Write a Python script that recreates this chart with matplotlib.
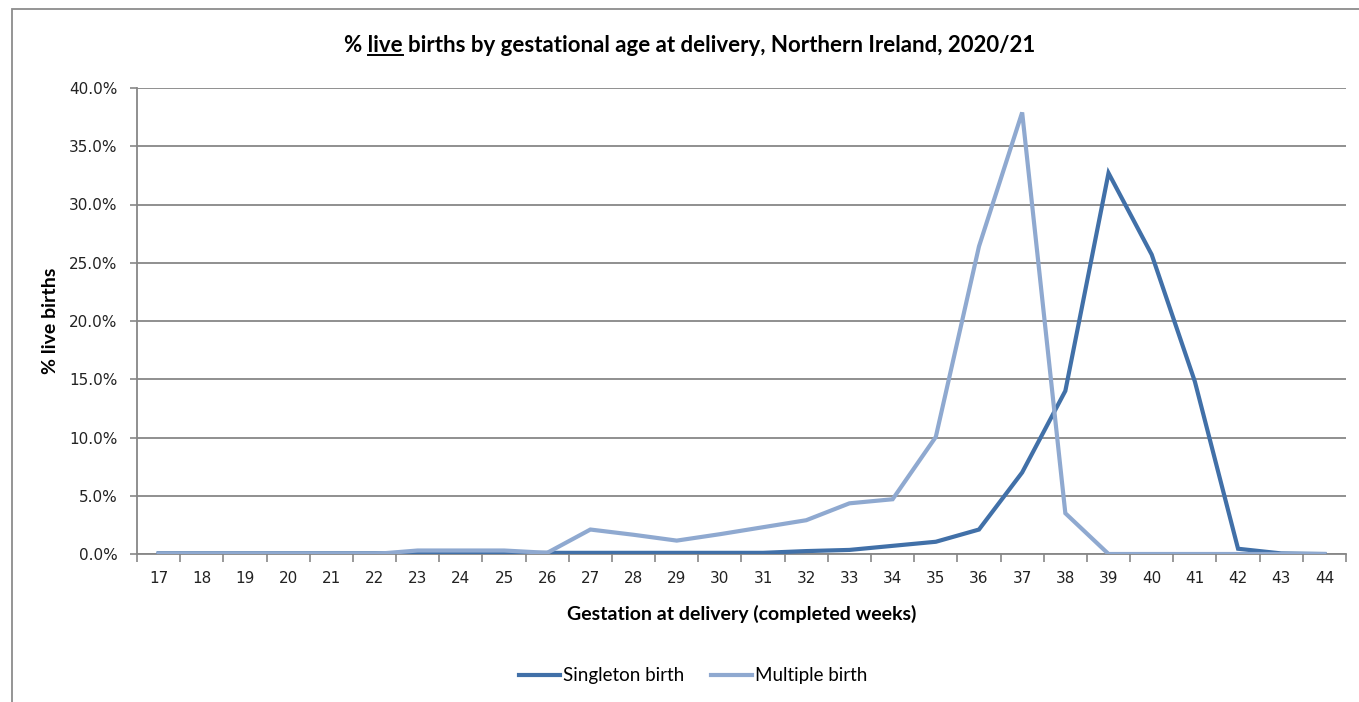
import matplotlib
matplotlib.use("Agg")
import matplotlib.pyplot as plt
from matplotlib.patches import Rectangle
from matplotlib.lines import Line2D
from matplotlib.ticker import FixedLocator, FuncFormatter

weeks = list(range(17, 45))
singleton = [0.05, 0.05, 0.05, 0.05, 0.05, 0.05, 0.05, 0.05, 0.05, 0.1,
             0.1, 0.1, 0.1, 0.1, 0.1, 0.25, 0.35, 0.7, 1.05, 2.1,
             7.0, 14.0, 32.7, 25.7, 14.8, 0.45, 0.05, 0.0]
multiple = [0.0, 0.0, 0.0, 0.0, 0.0, 0.0, 0.3, 0.3, 0.3, 0.1,
            2.1, 1.65, 1.15, 1.7, 2.3, 2.9, 4.35, 4.7, 10.05, 26.4,
            37.9, 3.5, 0.0, 0.0, 0.0, 0.0, 0.0, 0.0]
yticks = [0, 5, 10, 15, 20, 25, 30, 35, 40]

c_single = "#4170A8"
c_multi = "#8FA9D0"
grid_c = "#878787"

W, H = 1359, 702
fig = plt.figure(figsize=(W / 100, H / 100), dpi=100)
fig.patch.set_facecolor("white")

# outer chart border
fig.add_artist(Rectangle((12 / W, -0.05), 1.2, 1 - 9 / H + 0.05,
                         transform=fig.transFigure, fill=False,
                         edgecolor="#8c8c8c", linewidth=1.3))

ax = fig.add_axes([137 / W, 1 - 554 / H, (1346 - 137) / W, (554 - 88) / H])
ax.plot(weeks, singleton, color=c_single, lw=3.0, solid_joinstyle="miter",
        label="Singleton birth", zorder=3)
ax.plot(weeks, multiple, color=c_multi, lw=3.0, solid_joinstyle="miter",
        label="Multiple birth", zorder=3)

ax.set_xlim(16.5, 44.5)
ax.set_ylim(0, 40)
ax.yaxis.set_major_locator(FixedLocator(yticks))
ax.yaxis.set_major_formatter(FuncFormatter(lambda v, p: f"{v:.1f}%"))
ax.grid(axis="y", color=grid_c, lw=1.3, zorder=0)
ax.set_axisbelow(True)

ax.xaxis.set_major_locator(FixedLocator([w - 0.5 for w in weeks] + [44.5]))
ax.xaxis.set_major_formatter(FuncFormatter(lambda v, p: ""))
ax.xaxis.set_minor_locator(FixedLocator(weeks))
ax.xaxis.set_minor_formatter(FuncFormatter(lambda v, p: f"{int(round(v))}"))
ax.tick_params(axis="x", which="major", length=6, width=1.2, color=grid_c, direction="out")
ax.tick_params(axis="x", which="minor", length=0, pad=12, labelsize=11, labelcolor="#222222")
ax.tick_params(axis="y", which="major", length=5, width=1.2, color=grid_c, direction="out",
               pad=9, labelsize=11, labelcolor="#222222")

for s in ["top", "right"]:
    ax.spines[s].set_visible(False)
for s in ["left", "bottom"]:
    ax.spines[s].set_color(grid_c)
    ax.spines[s].set_linewidth(1.3)

lab_font = ["Lato", "DejaVu Sans"]
ax.set_xlabel("Gestation at delivery (completed weeks)", fontsize=14, fontweight="bold",
              family=lab_font, labelpad=14)
ax.set_ylabel("% live births", fontsize=14, fontweight="bold", family=lab_font, labelpad=7)

# title with underlined "live"
title_str = "% live births by gestational age at delivery, Northern Ireland, 2020/21"
tprops = dict(fontsize=16, fontweight="bold", family=lab_font)
tx, ty = 690 / W, 1 - 45 / H
title = fig.text(tx, ty, title_str, ha="center", va="center", **tprops)
fig.canvas.draw()
r = fig.canvas.get_renderer()
bb = title.get_window_extent(r)
t1 = fig.text(0, 0, "% live", **tprops)
t2 = fig.text(0, 0, "live", **tprops)
w1 = t1.get_window_extent(r).width
w2 = t2.get_window_extent(r).width
t1.remove(); t2.remove()
x_end = bb.x0 + w1
x_start = x_end - w2
y_line = bb.y0 + 1
fig.add_artist(Line2D([x_start / W, x_end / W], [y_line / H, y_line / H],
                      transform=fig.transFigure, color="black", lw=1.4))

handles = [Line2D([], [], color=c_single, lw=3.0), Line2D([], [], color=c_multi, lw=3.0)]
fig.legend(handles, ["Singleton birth", "Multiple birth"], loc="center",
           bbox_to_anchor=(693 / W, 1 - 676 / H), ncol=2, frameon=False,
           prop={"family": lab_font, "size": 13.5}, handlelength=2.2,
           handletextpad=0.15, columnspacing=1.4)

fig.savefig("out.png", dpi=100, facecolor="white")
